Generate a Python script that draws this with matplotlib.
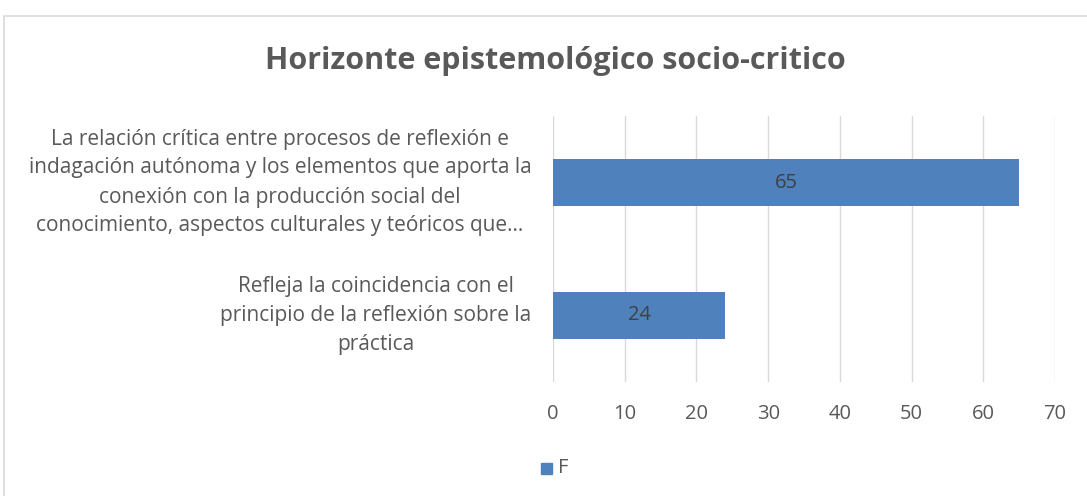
import matplotlib.pyplot as plt
from matplotlib.patches import Rectangle

# data
categories = ["Refleja la coincidencia con el\nprincipio de la reflexión sobre la\npráctica",
              "La relación crítica entre procesos de reflexión e\nindagación autónoma y los elementos que aporta la\nconexión con la producción social del\nconocimiento, aspectos culturales y teóricos que…"]
values = [24, 65]
series_name = "F"
xticks = [0, 10, 20, 30, 40, 50, 60, 70]

plt.rcParams['font.family'] = ['Open Sans', 'DejaVu Sans']

fig = plt.figure(figsize=(10.87, 4.96), dpi=100)
ax = fig.add_axes([553/1087, 1-382/496, (1055-553)/1087, (382-116)/496])

bar_color = '#4F81BD'
txt = '#595959'

bars = ax.barh(range(len(values)), values, height=0.35, color=bar_color, zorder=3, label=series_name)
for b, v in zip(bars, values):
    ax.text(v/2, b.get_y()+b.get_height()/2, str(v), ha='center', va='center',
            fontsize=14.5, color='#404040', zorder=4)

ax.set_xlim(0, 70)
ax.set_ylim(-0.5, 1.5)
ax.set_xticks(xticks)
ax.set_xticklabels([str(t) for t in xticks])
ax.set_yticks([])
ax.grid(axis='x', color='#D9D9D9', linewidth=1, zorder=0)
for s in ax.spines.values():
    s.set_visible(False)
ax.tick_params(axis='x', length=0, pad=16, labelsize=14.5, labelcolor=txt)

# category labels, right aligned, centred lines
for i, c in enumerate(categories):
    ax.text(-3.0, i, c, ha='right', va='center', multialignment='center',
            fontsize=15, color=txt, linespacing=1.5, transform=ax.transData)

fig.text(555/1087, 1-61/496, "Horizonte epistemológico socio-critico", ha='center', va='center',
         fontsize=22, fontweight='bold', color=txt)

# legend
fig.patches.append(Rectangle((541/1087, 1-474/496), 11/1087, 11/496, transform=fig.transFigure,
                             color=bar_color))
fig.text(558/1087, 1-468/496, series_name, ha='left', va='center', fontsize=14.5, color=txt)

# chart border
fig.patches.append(Rectangle((4/1087, -0.1), 1.2, 1-16/496+0.1, transform=fig.transFigure,
                             fill=False, edgecolor='#D9D9D9', linewidth=1.2))

fig.savefig('out.png', dpi=100)
